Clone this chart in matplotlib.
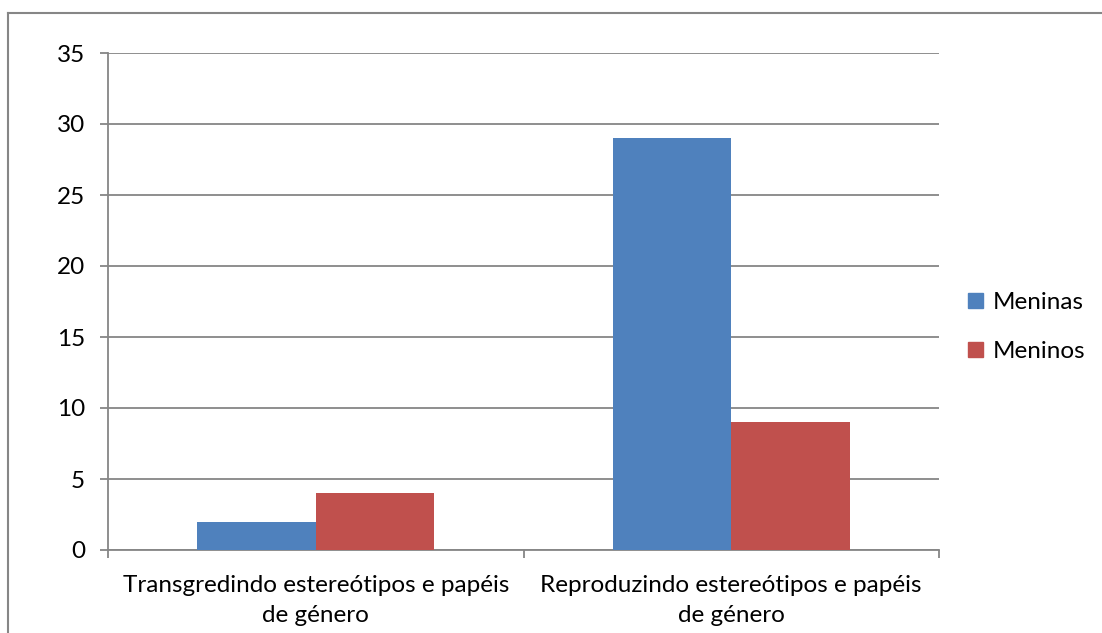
import matplotlib
matplotlib.use("Agg")
import matplotlib.pyplot as plt
import numpy as np
from matplotlib.lines import Line2D

categories = ["Transgredindo estereótipos e papéis\nde género",
              "Reproduzindo estereótipos e papéis\nde género"]
series_names = ["Meninas", "Meninos"]
meninas = [2, 29]
meninos = [4, 9]
y_ticks = [0, 5, 10, 15, 20, 25, 30, 35]

colors = ["#4F81BD", "#C0504D"]
grid_color = "#868686"
font = "Lato"
fs = 17.5

W, H = 1102, 633
fig = plt.figure(figsize=(W / 100, H / 100), dpi=100)
ax = fig.add_axes([108 / W, 1 - 550 / H, (939 - 108) / W, (550 - 53) / H])

x = np.arange(len(categories))
bw = 1 / 3.5
ax.bar(x - bw / 2, meninas, width=bw, color=colors[0], label=series_names[0], zorder=3)
ax.bar(x + bw / 2, meninos, width=bw, color=colors[1], label=series_names[1], zorder=3)

ax.set_xlim(-0.5, len(categories) - 0.5)
ax.set_ylim(0, 35)
ax.set_yticks(y_ticks)
ax.set_yticklabels([str(v) for v in y_ticks], fontname=font, fontsize=fs)
ax.yaxis.grid(True, color=grid_color, linewidth=1.3, zorder=0)
ax.set_axisbelow(True)

# category ticks sit on the boundaries between groups
ax.set_xticks(np.arange(-0.5, len(categories)), minor=False)
ax.set_xticklabels([""] * (len(categories) + 1))
ax.set_xticks(x, minor=True)
ax.set_xticklabels(categories, minor=True, fontname=font, fontsize=fs,
                   linespacing=1.5)
ax.tick_params(axis="x", which="minor", length=0, pad=18)
ax.tick_params(axis="x", which="major", length=5.5, width=1.3, color=grid_color)
ax.tick_params(axis="y", length=5.5, width=1.3, color=grid_color, pad=11)

for side in ["top", "right"]:
    ax.spines[side].set_visible(False)
for side in ["left", "bottom"]:
    ax.spines[side].set_color(grid_color)
    ax.spines[side].set_linewidth(1.3)

handles = [plt.Rectangle((0, 0), 1, 1, color=c) for c in colors]
fig.legend(handles, series_names, loc="upper left",
           bbox_to_anchor=(968 / W, 1 - 292 / H), frameon=False,
           prop={"family": font, "size": fs}, handlelength=0.6,
           handleheight=0.6, handletextpad=0.4, labelspacing=1.15,
           borderaxespad=0, borderpad=0)

# chart-area border (top and left edges)
fig.add_artist(Line2D([8 / W, 1.0], [1 - 13 / H, 1 - 13 / H],
                      color=grid_color, linewidth=1.5, transform=fig.transFigure))
fig.add_artist(Line2D([8 / W, 8 / W], [0, 1 - 13 / H],
                      color=grid_color, linewidth=1.5, transform=fig.transFigure))

fig.savefig("out.png", dpi=100)
